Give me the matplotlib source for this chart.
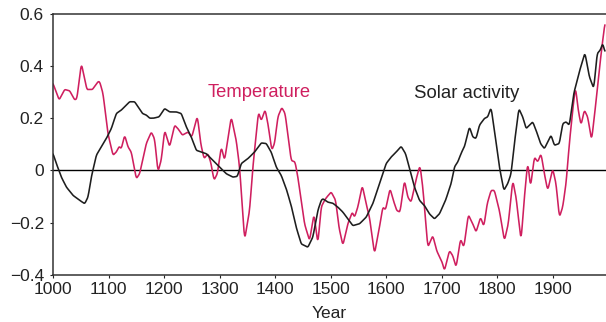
import numpy as np
import matplotlib.pyplot as plt

# temperature curve
temp_year = [1000, 1011, 1021, 1030, 1039, 1043, 1051, 1061, 1071, 1081, 1084, 1090,
             1099, 1108, 1114, 1119, 1123, 1129, 1135, 1141, 1150, 1156, 1168, 1177,
             1183, 1189, 1195, 1201, 1210, 1219, 1225, 1233, 1243, 1250, 1260, 1266,
             1272, 1279, 1284, 1290, 1296, 1303, 1309, 1321, 1330, 1336, 1345, 1354,
             1360, 1370, 1375, 1382, 1387, 1394, 1399, 1405, 1412, 1418, 1429, 1436,
             1441, 1453, 1462, 1470, 1477, 1483, 1489, 1493, 1501, 1509, 1515, 1522,
             1531, 1539, 1543, 1549, 1557, 1564, 1570, 1579, 1587, 1594, 1599, 1607,
             1613, 1619, 1625, 1633, 1639, 1645, 1651, 1655, 1661, 1666, 1675, 1684,
             1691, 1701, 1705, 1714, 1720, 1726, 1734, 1740, 1748, 1756, 1762, 1770,
             1776, 1782, 1789, 1795, 1804, 1813, 1820, 1828, 1834, 1843, 1849, 1855,
             1860, 1867, 1873, 1879, 1885, 1891, 1900, 1906, 1912, 1918, 1924, 1930,
             1936, 1941, 1946, 1951, 1957, 1963, 1970, 1975, 1982, 1988, 1994]
temp_val = [0.333, 0.27, 0.31, 0.305, 0.27, 0.275, 0.41, 0.31, 0.31, 0.34, 0.34, 0.295,
            0.14, 0.058, 0.07, 0.092, 0.083, 0.135, 0.09, 0.07, -0.032, -0.013, 0.103, 0.147,
            0.12, -0.006, 0.04, 0.154, 0.09, 0.173, 0.16, 0.135, 0.147, 0.128, 0.208, 0.103,
            0.045, 0.064, 0.032, -0.038, -0.013, 0.09, 0.038, 0.205, 0.115, 0.013, -0.267, -0.154,
            0.013, 0.224, 0.19, 0.233, 0.18, 0.077, 0.103, 0.205, 0.241, 0.218, 0.038, 0.032,
            -0.026, -0.205, -0.27, -0.167, -0.282, -0.141, -0.115, -0.103, -0.083, -0.115, -0.218, -0.288,
            -0.205, -0.16, -0.18, -0.141, -0.058, -0.128, -0.18, -0.32, -0.23, -0.141, -0.151, -0.07,
            -0.115, -0.154, -0.16, -0.038, -0.103, -0.122, -0.064, -0.026, 0.019, -0.064, -0.295, -0.25,
            -0.308, -0.353, -0.385, -0.308, -0.327, -0.372, -0.263, -0.295, -0.17, -0.205, -0.237, -0.18,
            -0.215, -0.128, -0.077, -0.077, -0.154, -0.27, -0.205, -0.038, -0.103, -0.27, -0.103, 0.032,
            -0.064, 0.051, 0.032, 0.064, -0.013, -0.077, 0.006, -0.051, -0.18, -0.141, -0.051, 0.103,
            0.231, 0.32, 0.231, 0.173, 0.231, 0.205, 0.115, 0.205, 0.346, 0.462, 0.564]

# solar activity curve
sol_year = [1000, 1006, 1015, 1024, 1036, 1048, 1057, 1063, 1069, 1078, 1087, 1096,
            1105, 1114, 1123, 1129, 1138, 1147, 1153, 1161, 1168, 1174, 1181, 1191,
            1201, 1210, 1222, 1231, 1240, 1249, 1258, 1267, 1276, 1288, 1300, 1312,
            1324, 1332, 1339, 1351, 1363, 1375, 1384, 1393, 1402, 1411, 1420, 1429,
            1438, 1447, 1459, 1468, 1477, 1483, 1486, 1495, 1504, 1513, 1522, 1531,
            1540, 1552, 1564, 1576, 1588, 1600, 1609, 1618, 1627, 1635, 1643, 1651,
            1660, 1669, 1678, 1687, 1696, 1707, 1717, 1723, 1729, 1736, 1741, 1750,
            1756, 1762, 1768, 1777, 1783, 1789, 1795, 1804, 1812, 1819, 1825, 1831,
            1839, 1846, 1852, 1858, 1864, 1870, 1878, 1885, 1891, 1897, 1903, 1912,
            1918, 1924, 1930, 1938, 1948, 1958, 1966, 1974, 1980, 1986, 1990, 1994]
sol_val = [0.064, 0.026, -0.026, -0.064, -0.096, -0.115, -0.128, -0.103, -0.026, 0.058, 0.09, 0.122,
           0.16, 0.218, 0.231, 0.244, 0.263, 0.263, 0.244, 0.218, 0.212, 0.2, 0.2, 0.205,
           0.237, 0.224, 0.224, 0.218, 0.167, 0.128, 0.077, 0.07, 0.064, 0.038, 0.013, -0.013,
           -0.026, -0.023, 0.026, 0.045, 0.07, 0.105, 0.103, 0.07, 0.013, -0.019, -0.07, -0.135,
           -0.218, -0.282, -0.295, -0.256, -0.154, -0.115, -0.109, -0.122, -0.126, -0.141, -0.16, -0.186,
           -0.212, -0.205, -0.18, -0.128, -0.051, 0.026, 0.051, 0.07, 0.092, 0.064, 0.0, -0.064,
           -0.115, -0.135, -0.167, -0.186, -0.167, -0.115, -0.051, 0.013, 0.032, 0.07, 0.09, 0.167,
           0.128, 0.122, 0.173, 0.199, 0.205, 0.241, 0.154, 0.013, -0.077, -0.051, -0.013, 0.103,
           0.237, 0.205, 0.16, 0.173, 0.186, 0.154, 0.103, 0.083, 0.109, 0.135, 0.096, 0.103,
           0.179, 0.186, 0.173, 0.295, 0.378, 0.451, 0.359, 0.314, 0.447, 0.462, 0.487, 0.455]

xticks = [1000, 1100, 1200, 1300, 1400, 1500, 1600, 1700, 1800, 1900]
yticks = [-0.4, -0.2, 0, 0.2, 0.4, 0.6]
ylabels = ['\u22120.4', '\u22120.2', '0', '0.2', '0.4', '0.6']

red = '#cf1f5f'
dark = '#1e1e1e'

plt.rcParams['font.family'] = ['Liberation Sans', 'DejaVu Sans']

fig = plt.figure(figsize=(6.06, 3.22), dpi=100)
ax = fig.add_axes([0.0875, 0.147, 0.9125, 0.81])

# smooth a bit so it looks like the original
def smooth(xs, ys):
    xx = np.arange(xs[0], xs[-1] + 0.5, 0.5)
    yy = np.interp(xx, xs, ys)
    k = np.ones(7) / 7
    yp = np.pad(yy, 3, mode='edge')
    return xx, np.convolve(yp, k, mode='valid')

tx, ty = smooth(temp_year, temp_val)
sx, sy = smooth(sol_year, sol_val)

ax.axhline(0, color='black', lw=1.0, zorder=1)
ax.plot(tx, ty, color=red, lw=1.15, zorder=2)
ax.plot(sx, sy, color=dark, lw=1.15, zorder=3)

ax.set_xlim(1000, 1996)
ax.set_ylim(-0.4, 0.6)
ax.set_xticks(xticks)
ax.set_yticks(yticks)
ax.set_yticklabels(ylabels)
ax.tick_params(labelsize=12.5, length=2.5, width=0.8, pad=3, colors='#222222')
ax.tick_params(axis='y', pad=4)

for s in ['left', 'bottom', 'top']:
    ax.spines[s].set_linewidth(1.1)
    ax.spines[s].set_color('#333333')
ax.spines['right'].set_visible(False)

ax.set_xlabel('Year', fontsize=12.5, labelpad=6, color='#222222')
ax.text(1372, 0.30, 'Temperature', color=red, fontsize=13.2, ha='center', va='center')
ax.text(1745, 0.296, 'Solar activity', color='#222222', fontsize=13.4, ha='center', va='center')

fig.savefig('out.png', dpi=100)
